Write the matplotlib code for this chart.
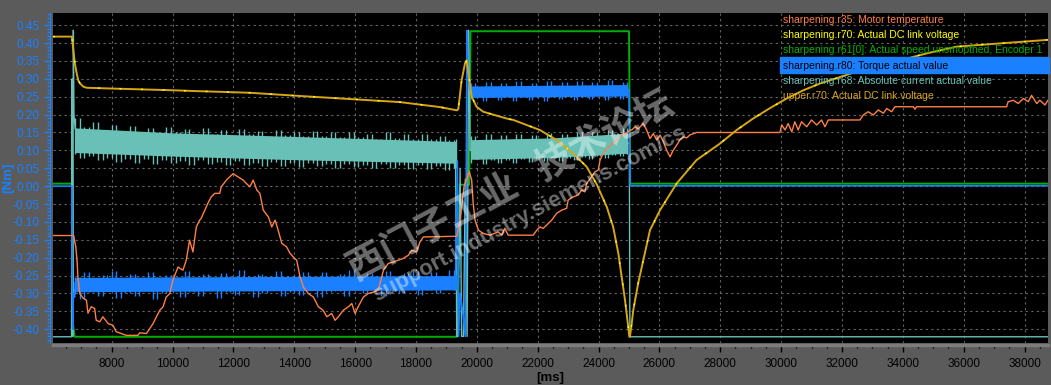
import matplotlib.pyplot as plt
from matplotlib.ticker import MultipleLocator, FormatStrFormatter
from matplotlib.patches import Rectangle

plt.rcParams['font.family'] = ['Liberation Sans', 'DejaVu Sans']

# --- data (time in ms, values in Nm scale) ---

# upper.r70 / sharpening.r70: DC link voltage
t_dc = [6070, 6690, 6740, 6790, 6850, 6900, 6960, 7070, 7180, 7940, 10020, 10680,
        12550, 14190, 17470, 18790, 19340, 19390, 19500, 19610, 19665, 19830, 19990,
        20210, 20980, 21200, 22070, 22620, 23170, 23610, 23940, 24270, 24480, 24650,
        24760, 24870, 24975, 25010, 25030, 25090, 25140, 25300, 25470, 25690, 26020,
        26570, 27220, 27990, 28540, 29080, 29630, 30180, 30730, 31280, 32480, 34780,
        35770, 38770]
v_dc = [0.418, 0.418, 0.38, 0.343, 0.315, 0.296, 0.287, 0.278, 0.275, 0.273, 0.268, 0.266,
        0.261, 0.252, 0.235, 0.221, 0.212, 0.215, 0.296, 0.343, 0.352, 0.25, 0.222,
        0.208, 0.189, 0.185, 0.157, 0.129, 0.091, 0.054, 0.005, -0.058, -0.114, -0.188,
        -0.254, -0.319, -0.393, -0.421, -0.421, -0.384, -0.347, -0.272, -0.207, -0.123, -0.067,
        0.008, 0.073, 0.119, 0.157, 0.189, 0.218, 0.245, 0.268, 0.287, 0.32, 0.371,
        0.39, 0.409]

# sharpening.r61[0]: speed
t_speed = [6070, 6700, 6720, 6780, 19340, 19440, 19750, 19790, 25000, 25040, 38770]
v_speed = [0.007, 0.007, -0.38, -0.421, -0.421, 0.004, 0.004, 0.433, 0.433, 0.007, 0.007]

# sharpening.r35: motor temperature
t_temp = [6070, 6750, 6820, 6860, 6890, 6950, 7060, 7170, 7220, 7330, 7440, 7490, 7610,
          7710, 7880, 8040, 8150, 8320, 8480, 8860, 8920, 9140, 9250, 9360, 9470, 9580,
          9690, 9790, 9910, 10010, 10180, 10340, 10450, 10560, 10670, 10780, 10890, 10940,
          11110, 11160, 11270, 11390, 11550, 11600, 11770, 11880, 11990, 12150, 12320,
          12420, 12540, 12650, 12770, 12870, 12980, 13150, 13260, 13370, 13470, 13590,
          13750, 13860, 13970, 14080, 14190, 14300, 14460, 14630, 14790, 14950, 15070,
          15230, 15340, 15450, 15610, 15780, 15890, 16000, 16100, 16270, 16430, 16600,
          16760, 16930, 17090, 17250, 17420, 17580, 17750, 17860, 18020, 18130, 18240,
          19340, 19450, 19580, 19750, 19830, 19880, 19940, 20050, 20210, 20430, 20700,
          20820, 20920, 21030, 21850, 21970, 22070, 22180, 22290, 22460, 22620, 22790,
          22950, 23000, 23170, 23330, 23440, 23550, 23610, 23770, 23880, 23990, 24050,
          24150, 24210, 24590, 24760, 24920, 25030, 25090, 25200, 25300, 25470, 25580,
          25690, 25800, 25910, 26020, 26130, 26240, 26350, 26450, 26570, 26670, 26780,
          26900, 27000, 27220, 29960, 30020, 30130, 30230, 30350, 30450, 30560, 30670,
          30840, 31000, 31170, 31330, 31440, 31550, 32590, 32700, 32860, 33030, 33190,
          33360, 33470, 33630, 33740, 34340, 34400, 34450, 37410, 37460, 37630, 37790,
          37960, 38120, 38230, 38400, 38500, 38670, 38770]
v_temp = [-0.138, -0.138, -0.17, -0.207, -0.254, -0.3, -0.313, -0.319, -0.355, -0.337, -0.342, -0.375, -0.379,
          -0.365, -0.384, -0.389, -0.407, -0.412, -0.417, -0.417, -0.41, -0.412, -0.398, -0.384, -0.365, -0.347,
          -0.337, -0.31, -0.3, -0.263, -0.226, -0.235, -0.207, -0.151, -0.184, -0.114, -0.095, -0.09,
          -0.058, -0.048, -0.03, -0.02, -0.02, -0.002, 0.017, 0.026, 0.035, 0.026, 0.017,
          0.008, -0.002, 0.017, -0.011, -0.02, -0.067, -0.086, -0.114, -0.095, -0.123, -0.16,
          -0.17, -0.188, -0.198, -0.207, -0.254, -0.282, -0.3, -0.31, -0.337, -0.347, -0.365,
          -0.356, -0.375, -0.365, -0.347, -0.337, -0.328, -0.356, -0.337, -0.31, -0.3, -0.296,
          -0.291, -0.235, -0.216, -0.212, -0.207, -0.202, -0.193, -0.179, -0.184, -0.156, -0.142,
          -0.14, -0.095, 0.0, 0.04, 0.017, -0.048, -0.095, -0.123, -0.132, -0.137, -0.128,
          -0.137, -0.118, -0.137, -0.137, -0.123, -0.114, -0.118, -0.109, -0.095, -0.076, -0.067,
          -0.062, -0.039, -0.03, -0.025, -0.011, -0.016, 0.008, 0.026, 0.04, 0.045, 0.073,
          0.091, 0.1, 0.129, 0.143, 0.147, 0.157, 0.157, 0.166, 0.16, 0.175, 0.157,
          0.133, 0.147, 0.129, 0.143, 0.124, 0.1, 0.082, 0.1, 0.115, 0.129, 0.138,
          0.135, 0.143, 0.15, 0.15, 0.171, 0.157, 0.175, 0.152, 0.18, 0.157, 0.18,
          0.166, 0.185, 0.171, 0.185, 0.166, 0.185, 0.185, 0.199, 0.208, 0.199, 0.213,
          0.204, 0.217, 0.208, 0.222, 0.222, 0.215, 0.222, 0.222, 0.236, 0.24, 0.231,
          0.245, 0.236, 0.254, 0.231, 0.24, 0.227, 0.24]

# sharpening.r80: torque - step parts
t_tq_a = [6070, 6690, 6700, 6720, 6740, 6780, 6800]
v_tq_a = [0.0, 0.0, -0.25, -0.40, -0.30, -0.31, -0.27]
t_tq_b = [19300, 19360, 19400, 19450, 19550, 19620, 19680, 19720, 19780, 19800]
v_tq_b = [-0.265, 0.07, -0.42, -0.3, -0.36, -0.42, 0.435, 0.3, 0.27, 0.265]
t_tq_c = [24950, 25000, 25040, 38770]
v_tq_c = [0.265, 0.27, 0.001, 0.001]

# noisy stretches: spike tops / bottoms and solid core
t_band1 = [6800, 7100, 7400, 7700, 8000, 8300, 8600, 8900, 9200, 9500, 9800, 10100,
           10400, 10700, 11000, 11300, 11600, 11900, 12200, 12500, 12800, 13100, 13400,
           13700, 14000, 14300, 14600, 14900, 15200, 15500, 15800, 16100, 16400, 16700,
           17000, 17300, 17600, 17900, 18200, 18500, 18800, 19100, 19300]
tq1_hi = [-0.255, -0.24, -0.262, -0.248, -0.236, -0.258, -0.245, -0.262, -0.24, -0.255, -0.248, -0.262,
          -0.238, -0.256, -0.246, -0.26, -0.242, -0.252, -0.234, -0.258, -0.245, -0.255, -0.236,
          -0.26, -0.248, -0.24, -0.258, -0.24, -0.255, -0.245, -0.234, -0.257, -0.243, -0.252,
          -0.238, -0.256, -0.244, -0.236, -0.255, -0.24, -0.25, -0.234, -0.245]
tq1_lo = [-0.302, -0.315, -0.295, -0.308, -0.29, -0.313, -0.298, -0.306, -0.292, -0.315, -0.3, -0.294,
          -0.31, -0.297, -0.306, -0.29, -0.312, -0.296, -0.304, -0.293, -0.31, -0.298, -0.291,
          -0.308, -0.296, -0.304, -0.29, -0.309, -0.297, -0.293, -0.307, -0.291, -0.3, -0.288,
          -0.306, -0.292, -0.3, -0.287, -0.304, -0.29, -0.298, -0.286, -0.29]
t_tq1_core = [6800, 19300]
tq1_core_hi = [-0.255, -0.25]
tq1_core_lo = [-0.295, -0.29]

t_band2 = [19800, 20050, 20300, 20550, 20800, 21050, 21300, 21550, 21800, 22050, 22300,
           22550, 22800, 23050, 23300, 23550, 23800, 24050, 24300, 24550, 24800, 24950]
tq2_hi = [0.287, 0.278, 0.292, 0.28, 0.288, 0.276, 0.293, 0.281, 0.289, 0.278, 0.294,
          0.282, 0.29, 0.279, 0.295, 0.283, 0.291, 0.28, 0.296, 0.284, 0.292, 0.286]
tq2_lo = [0.243, 0.252, 0.238, 0.25, 0.241, 0.254, 0.239, 0.249, 0.242, 0.253, 0.238,
          0.25, 0.244, 0.252, 0.24, 0.25, 0.243, 0.254, 0.241, 0.25, 0.244, 0.25]
t_tq2_core = [19800, 24950]
tq2_core_hi = [0.28, 0.284]
tq2_core_lo = [0.248, 0.252]

# sharpening.r68: absolute current - step parts
t_cur_a = [6070, 6680, 6700, 6720, 6740, 6760, 6800]
v_cur_a = [-0.421, -0.421, 0.3, -0.42, 0.436, 0.2, 0.16]
t_cur_b = [19300, 19340, 19380, 19450, 19500, 19560, 19620, 19680, 19730, 19780, 19800]
v_cur_b = [0.09, -0.42, -0.42, 0.05, -0.42, -0.42, 0.02, -0.42, 0.436, 0.1, 0.1]
t_cur_c = [24950, 25010, 25030, 38770]
v_cur_c = [0.12, 0.12, -0.421, -0.421]

cur1_hi = [0.19, 0.165, 0.178, 0.158, 0.17, 0.155, 0.168, 0.15, 0.163, 0.148, 0.165, 0.15,
           0.16, 0.145, 0.162, 0.147, 0.157, 0.143, 0.16, 0.146, 0.155, 0.141, 0.157,
           0.143, 0.152, 0.139, 0.155, 0.141, 0.15, 0.137, 0.152, 0.138, 0.147, 0.133,
           0.15, 0.135, 0.145, 0.131, 0.147, 0.133, 0.14, 0.128, 0.133]
cur1_lo = [0.09, 0.078, 0.085, 0.072, 0.08, 0.068, 0.077, 0.065, 0.075, 0.062, 0.073, 0.064,
           0.07, 0.06, 0.072, 0.061, 0.068, 0.058, 0.07, 0.059, 0.066, 0.056, 0.067,
           0.057, 0.064, 0.054, 0.065, 0.055, 0.062, 0.052, 0.063, 0.053, 0.06, 0.05,
           0.061, 0.051, 0.058, 0.048, 0.059, 0.049, 0.056, 0.046, 0.05]
t_cur1_core = [6780, 10000, 14000, 19300]
cur1_core_hi = [0.163, 0.149, 0.139, 0.125]
cur1_core_lo = [0.094, 0.084, 0.074, 0.064]

cur2_hi = [0.14, 0.128, 0.145, 0.13, 0.142, 0.129, 0.146, 0.133, 0.143, 0.131, 0.148,
           0.135, 0.146, 0.134, 0.152, 0.138, 0.151, 0.14, 0.158, 0.145, 0.163, 0.155]
cur2_lo = [0.065, 0.075, 0.062, 0.072, 0.064, 0.074, 0.066, 0.076, 0.067, 0.077, 0.069,
           0.079, 0.071, 0.08, 0.073, 0.082, 0.076, 0.085, 0.079, 0.088, 0.083, 0.09]
t_cur2_core = [19800, 22500, 24950]
cur2_core_hi = [0.13, 0.135, 0.148]
cur2_core_lo = [0.075, 0.08, 0.092]

legend_names = ['sharpening.r35: Motor temperature',
                'sharpening.r70: Actual DC link voltage',
                'sharpening.r61[0]: Actual speed unsmoothed, Encoder 1',
                'sharpening.r80: Torque actual value',
                'sharpening.r68: Absolute current actual value',
                'upper.r70: Actual DC link voltage']

c_temp = '#ff7f45'
c_yel = '#ffff00'
c_green = '#00b000'
c_blue = '#1a80ff'
c_teal = '#68c0b6'
c_gold = '#d6a618'
legend_colors = [c_temp, c_yel, c_green, 'black', c_teal, c_gold]


def noise(ax, t, hi, lo, tc, chi, clo, color, z):
    # solid core band with thin spikes sticking out above and below
    ax.fill_between(tc, clo, chi, color=color, lw=0, zorder=z)
    ax.vlines(t, lo, hi, color=color, lw=1.0, zorder=z)
    t_mid = [a + 150 for a in t[:-1]]
    ax.vlines(t_mid, lo[1:], hi[:-1], color=color, lw=1.0, zorder=z)


# --- figure ---
W, H = 1051, 385
fig = plt.figure(figsize=(W / 100, H / 100), dpi=100, facecolor='#5b5b5b')
ax = fig.add_axes([53 / W, 1 - 342.5 / H, (1048 - 53) / W, (342.5 - 13) / H])
ax.set_facecolor('black')
ax.set_xlim(6071, 38770)
ax.set_ylim(-0.437, 0.484)

ax.set_axisbelow(True)
ax.grid(True, which='major', color='#666666', linestyle=(0, (2, 3)), linewidth=0.8)

# green speed
ax.plot(t_speed, v_speed, color=c_green, lw=1.4, zorder=2)

# teal current
ax.plot(t_cur_a, v_cur_a, color=c_teal, lw=1.0, zorder=3)
ax.plot(t_cur_b, v_cur_b, color=c_teal, lw=1.0, zorder=3)
ax.plot(t_cur_c, v_cur_c, color=c_teal, lw=1.0, zorder=3)
noise(ax, t_band1, cur1_hi, cur1_lo, t_cur1_core, cur1_core_hi, cur1_core_lo, c_teal, 3)
noise(ax, t_band2, cur2_hi, cur2_lo, t_cur2_core, cur2_core_hi, cur2_core_lo, c_teal, 3)

# blue torque
ax.plot(t_tq_a, v_tq_a, color=c_blue, lw=1.2, zorder=4)
ax.plot(t_tq_b, v_tq_b, color=c_blue, lw=1.2, zorder=4)
ax.plot(t_tq_c, v_tq_c, color=c_blue, lw=1.2, zorder=4)
noise(ax, t_band1, tq1_hi, tq1_lo, t_tq1_core, tq1_core_hi, tq1_core_lo, c_blue, 4)
noise(ax, t_band2, tq2_hi, tq2_lo, t_tq2_core, tq2_core_hi, tq2_core_lo, c_blue, 4)

# orange temperature
ax.plot(t_temp, v_temp, color=c_temp, lw=1.0, zorder=5)

# DC link voltage (gold, with the yellow trace peeking through)
ax.plot(t_dc, v_dc, color=c_gold, lw=1.4, zorder=6)
ax.plot(t_dc, v_dc, color=c_yel, lw=1.0, dashes=(1.5, 14), zorder=6)

# axes styling
for s in ['top', 'right']:
    ax.spines[s].set_visible(False)
ax.spines['left'].set_position(('outward', 2.5))
ax.spines['left'].set_color(c_blue)
ax.spines['bottom'].set_position(('outward', 1.5))
ax.spines['bottom'].set_color('#7c7c7c')
ax.spines['bottom'].set_linewidth(2.5)

ax.yaxis.set_major_locator(MultipleLocator(0.05))
ax.yaxis.set_minor_locator(MultipleLocator(0.01))
ax.yaxis.set_major_formatter(FormatStrFormatter('%.2f'))
ax.xaxis.set_major_locator(MultipleLocator(2000))
ax.xaxis.set_minor_locator(MultipleLocator(500))
ax.xaxis.set_major_formatter(FormatStrFormatter('%d'))

ax.tick_params(axis='y', which='major', colors=c_blue, length=4, width=1, pad=3, labelsize=8.5)
ax.tick_params(axis='y', which='minor', colors=c_blue, length=2.2, width=1)
ax.tick_params(axis='x', which='major', colors='black', length=5, width=1, pad=5, labelsize=8.5)
ax.tick_params(axis='x', which='minor', colors='black', length=2.5, width=1)

fig.text(8 / W, 1 - 178 / H, '[Nm]', rotation=90, color=c_blue, fontsize=9.5,
         fontweight='bold', ha='center', va='center')
fig.text(550 / W, 1 - 378 / H, '[ms]', color='black', fontsize=9.5,
         fontweight='bold', ha='center', va='center')

# legend block in the upper right
fig.add_artist(Rectangle((780 / W, 1 - 72.7 / H), (1049 - 780) / W, 15.4 / H,
                         transform=fig.transFigure, color=c_blue, zorder=8))
for i, (name, col) in enumerate(zip(legend_names, legend_colors)):
    fig.text(783 / W, 1 - (20 + i * 15.2) / H, name, color=col, fontsize=7.5,
             ha='left', va='center', zorder=9)

# watermark
fig.text(510 / W, 1 - 186 / H, '西门子工业   技术论坛', rotation=28, rotation_mode='anchor',
         family=['Noto Sans CJK SC', 'DejaVu Sans'], fontsize=27, fontweight='bold',
         color='white', alpha=0.42, ha='center', va='center', zorder=10)
fig.text(530 / W, 1 - 214 / H, 'support.industry.siemens.com/cs', rotation=28,
         rotation_mode='anchor', fontsize=16, fontweight='bold',
         color='white', alpha=0.42, ha='center', va='center', zorder=10)

plt.savefig('out.png', dpi=100, facecolor=fig.get_facecolor())
plt.close('all')
